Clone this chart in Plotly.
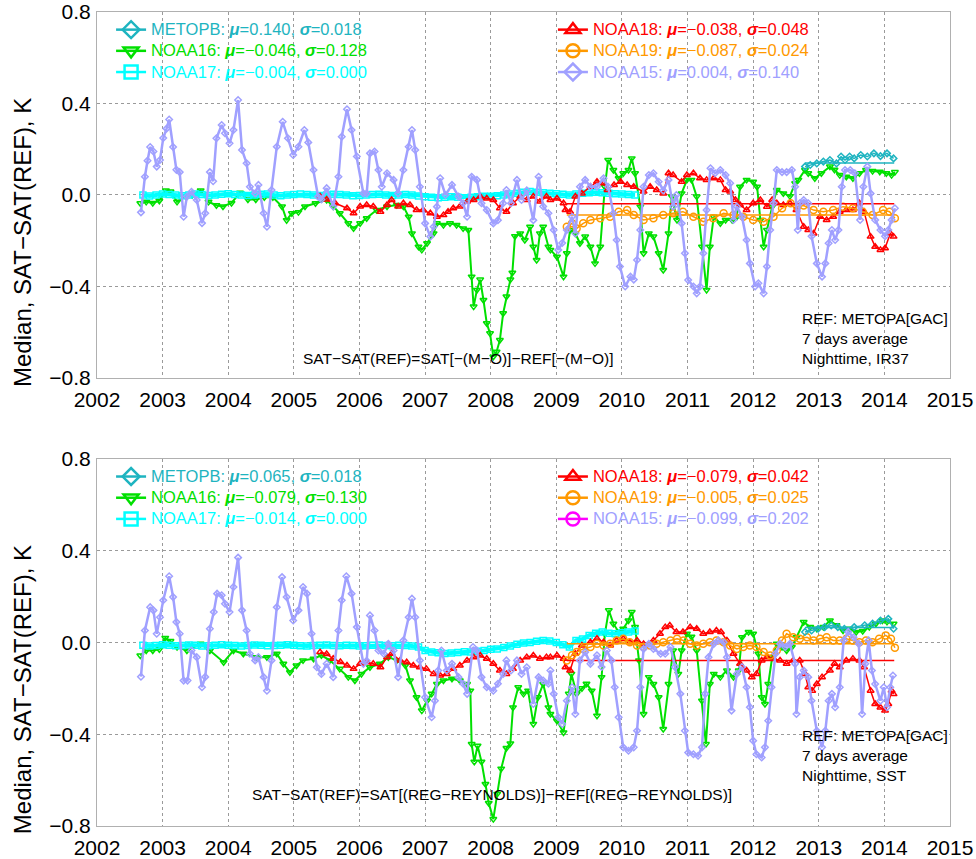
import plotly.graph_objects as go

# decimal year, median difference (K)
# ---------------- top panel: IR37, -(M-O) ----------------
n15_top = [
    (2002.67, -0.076), (2002.73, 0.08), (2002.77, 0.15), (2002.81, 0.21), (2002.86, 0.19),
    (2002.91, 0.124), (2002.96, 0.153), (2003.01, 0.249), (2003.06, 0.29), (2003.10, 0.33),
    (2003.16, 0.21), (2003.21, 0.11), (2003.26, 0.10), (2003.32, -0.095), (2003.37, -0.007),
    (2003.44, 0.014), (2003.52, -0.022), (2003.60, -0.123), (2003.65, -0.08), (2003.72, 0.10),
    (2003.77, 0.06), (2003.82, 0.248), (2003.90, 0.306), (2003.95, 0.27), (2004.02, 0.226),
    (2004.08, 0.284), (2004.15, 0.415), (2004.21, 0.197), (2004.28, 0.139), (2004.33, 0.036),
    (2004.41, 0.007), (2004.46, 0.044), (2004.54, -0.08), (2004.59, -0.139), (2004.66, 0.022),
    (2004.74, 0.211), (2004.83, 0.32), (2004.91, 0.248), (2004.99, 0.175), (2005.07, 0.211),
    (2005.16, 0.284), (2005.22, 0.23), (2005.30, 0.109), (2005.37, -0.007), (2005.42, -0.02),
    (2005.50, 0.03), (2005.60, -0.05), (2005.68, 0.08), (2005.73, 0.255), (2005.81, 0.375),
    (2005.88, 0.284), (2005.96, 0.168), (2006.06, 0.007), (2006.11, 0.007), (2006.16, 0.182),
    (2006.23, 0.19), (2006.29, 0.109), (2006.34, 0.036), (2006.42, 0.095), (2006.52, 0.066),
    (2006.59, 0.007), (2006.67, 0.109), (2006.75, 0.211), (2006.80, 0.284), (2006.85, 0.197),
    (2006.92, 0.036), (2007.00, -0.124), (2007.08, -0.182), (2007.13, -0.139), (2007.18, -0.051),
    (2007.23, 0.073), (2007.31, 0.0), (2007.41, 0.044), (2007.51, -0.007), (2007.58, -0.036),
    (2007.64, -0.095), (2007.71, 0.08), (2007.79, 0.066), (2007.86, -0.036), (2007.94, -0.066),
    (2008.04, -0.124), (2008.11, -0.11), (2008.19, -0.036), (2008.24, 0.022), (2008.31, -0.036),
    (2008.40, 0.066), (2008.47, -0.022), (2008.55, 0.02), (2008.65, -0.11), (2008.73, 0.08),
    (2008.80, -0.05), (2008.88, -0.08), (2008.96, -0.153), (2009.03, -0.24), (2009.09, -0.21),
    (2009.16, -0.153), (2009.24, -0.095), (2009.29, -0.168), (2009.36, 0.036), (2009.44, 0.066),
    (2009.52, 0.036), (2009.62, 0.036), (2009.72, 0.073), (2009.79, 0.036), (2009.87, -0.08),
    (2009.92, -0.197), (2009.97, -0.313), (2010.05, -0.40), (2010.13, -0.357), (2010.18, -0.37),
    (2010.23, -0.284), (2010.28, -0.153), (2010.33, 0.036), (2010.41, 0.087), (2010.48, 0.095),
    (2010.56, 0.058), (2010.63, 0.02), (2010.71, 0.066), (2010.78, -0.051), (2010.83, 0.0),
    (2010.91, -0.124), (2010.96, -0.255), (2011.01, -0.372), (2011.09, -0.40), (2011.14, -0.43),
    (2011.19, -0.40), (2011.24, -0.255), (2011.29, -0.066), (2011.35, 0.117), (2011.42, 0.095),
    (2011.50, 0.109), (2011.58, 0.087), (2011.65, 0.051), (2011.70, -0.109), (2011.75, -0.05),
    (2011.83, -0.095), (2011.90, -0.197), (2011.95, -0.299), (2012.03, -0.40), (2012.08, -0.386),
    (2012.16, -0.43), (2012.21, -0.313), (2012.26, -0.153), (2012.31, -0.036), (2012.36, 0.109),
    (2012.44, 0.10), (2012.51, 0.10), (2012.59, 0.109), (2012.64, 0.036), (2012.68, -0.153),
    (2012.71, -0.036), (2012.77, -0.022), (2012.84, -0.036), (2012.89, -0.18), (2012.97, -0.299),
    (2013.05, -0.357), (2013.10, -0.299), (2013.15, -0.211), (2013.20, -0.153), (2013.25, -0.197),
    (2013.30, -0.153), (2013.35, 0.036), (2013.40, 0.109), (2013.48, 0.109), (2013.55, 0.095),
    (2013.63, -0.109), (2013.68, 0.036), (2013.74, 0.124), (2013.79, 0.007), (2013.86, -0.109),
    (2013.94, -0.153), (2014.01, -0.18), (2014.06, -0.153), (2014.11, -0.109), (2014.16, -0.058),
]
n16_top = [
    (2002.66, -0.036), (2002.75, -0.03), (2002.85, -0.035), (2002.95, -0.025), (2003.05, 0.02),
    (2003.12, 0.015), (2003.22, -0.03), (2003.35, -0.005), (2003.45, 0.0), (2003.58, 0.02),
    (2003.70, -0.03), (2003.82, -0.045), (2003.92, -0.05), (2004.05, -0.035), (2004.18, 0.01),
    (2004.30, -0.02), (2004.42, -0.02), (2004.55, -0.01), (2004.68, -0.01), (2004.82, -0.05),
    (2004.89, -0.11), (2004.97, -0.08), (2005.07, -0.075), (2005.17, -0.05), (2005.33, -0.036),
    (2005.50, -0.022), (2005.60, -0.05), (2005.70, -0.08), (2005.83, -0.124), (2005.91, -0.146),
    (2006.01, -0.124), (2006.11, -0.102), (2006.26, -0.066), (2006.42, -0.05), (2006.57, -0.044),
    (2006.67, -0.05), (2006.75, -0.095), (2006.80, -0.168), (2006.90, -0.226), (2006.95, -0.24),
    (2007.03, -0.211), (2007.13, -0.168), (2007.18, -0.124), (2007.28, -0.131), (2007.38, -0.124),
    (2007.48, -0.131), (2007.58, -0.146), (2007.66, -0.153), (2007.71, -0.357), (2007.74, -0.488),
    (2007.79, -0.415), (2007.84, -0.37), (2007.89, -0.459), (2007.94, -0.561), (2007.99, -0.605),
    (2008.04, -0.707), (2008.09, -0.685), (2008.14, -0.634), (2008.19, -0.517), (2008.24, -0.444),
    (2008.30, -0.37), (2008.33, -0.34), (2008.37, -0.18), (2008.45, -0.168), (2008.52, -0.197),
    (2008.60, -0.139), (2008.65, -0.226), (2008.70, -0.284), (2008.75, -0.168), (2008.80, -0.139),
    (2008.88, -0.226), (2008.91, -0.24), (2009.01, -0.27), (2009.11, -0.357), (2009.16, -0.255),
    (2009.21, -0.153), (2009.29, -0.168), (2009.36, -0.211), (2009.44, -0.182), (2009.52, -0.226),
    (2009.59, -0.299), (2009.67, -0.226), (2009.74, 0.036), (2009.79, 0.153), (2009.87, 0.109),
    (2009.95, 0.073), (2010.02, 0.095), (2010.10, 0.109), (2010.15, 0.16), (2010.20, 0.095),
    (2010.28, -0.051), (2010.33, -0.255), (2010.41, -0.168), (2010.48, -0.182), (2010.56, -0.255),
    (2010.63, -0.328), (2010.71, -0.168), (2010.76, -0.007), (2010.84, -0.109), (2010.91, 0.007),
    (2010.99, 0.066), (2011.06, 0.066), (2011.14, -0.007), (2011.22, -0.226), (2011.29, -0.415),
    (2011.34, -0.226), (2011.40, -0.095), (2011.50, -0.124), (2011.58, -0.109), (2011.68, -0.109),
    (2011.75, -0.095), (2011.80, 0.036), (2011.90, 0.066), (2012.00, 0.058), (2012.06, 0.036),
    (2012.11, -0.109), (2012.16, -0.226), (2012.21, -0.153), (2012.29, -0.051), (2012.36, 0.022),
    (2012.46, 0.007), (2012.56, -0.005), (2012.64, 0.051), (2012.69, 0.066), (2012.79, 0.109),
    (2012.84, 0.095), (2012.94, 0.073), (2013.04, 0.095), (2013.17, 0.124), (2013.24, 0.11),
    (2013.32, 0.087), (2013.42, 0.08), (2013.52, 0.073), (2013.62, 0.095), (2013.72, 0.109),
    (2013.82, 0.105), (2013.93, 0.102), (2014.03, 0.095), (2014.11, 0.087), (2014.16, 0.10),
]
n17_time = [
    2002.7, 2002.8, 2002.9, 2003.0, 2003.1, 2003.2, 2003.3, 2003.4, 2003.5, 2003.6,
    2003.7, 2003.8, 2003.9, 2004.0, 2004.1, 2004.2, 2004.3, 2004.4, 2004.5, 2004.6,
    2004.7, 2004.8, 2004.9, 2005.0, 2005.1, 2005.2, 2005.3, 2005.4, 2005.5, 2005.6,
    2005.7, 2005.8, 2005.9, 2006.0, 2006.1, 2006.2, 2006.3, 2006.4, 2006.5, 2006.6,
    2006.7, 2006.8, 2006.9, 2007.0, 2007.1, 2007.2, 2007.3, 2007.4, 2007.5, 2007.6,
    2007.7, 2007.8, 2007.9, 2008.0, 2008.1, 2008.2, 2008.3, 2008.4, 2008.5, 2008.6,
    2008.7, 2008.8, 2008.9, 2009.0, 2009.1, 2009.2, 2009.3, 2009.4, 2009.5, 2009.6,
    2009.7, 2009.8, 2009.9, 2010.0, 2010.1, 2010.2,
]
n17_top = [
    0.0, -0.004, 0.0, 0.004, 0.002, 0.0, -0.003, 0.0, 0.004, 0.002,
    -0.002, 0.0, 0.003, 0.005, 0.002, 0.0, -0.002, 0.0, 0.003, 0.004,
    0.0, -0.003, 0.0, 0.002, 0.004, 0.002, 0.0, -0.002, 0.0, 0.003,
    0.002, 0.0, -0.003, -0.002, 0.0, 0.002, 0.003, 0.0, -0.002, 0.0,
    0.002, 0.0, -0.004, -0.008, -0.01, -0.012, -0.01, -0.008, -0.01, -0.012,
    -0.01, -0.008, -0.006, -0.005, -0.003, 0.0, 0.004, 0.008, 0.012, 0.015,
    0.012, 0.01, 0.008, 0.005, 0.003, 0.0, 0.004, 0.008, 0.01, 0.012,
    0.01, 0.008, 0.005, 0.004, 0.002, 0.0,
]
n18_top = [
    (2005.40, -0.007), (2005.50, -0.02), (2005.63, -0.036), (2005.81, -0.058), (2005.91, -0.08),
    (2006.01, -0.05), (2006.11, -0.044), (2006.21, -0.05), (2006.32, -0.073), (2006.42, -0.044),
    (2006.49, -0.022), (2006.59, -0.05), (2006.67, -0.036), (2006.77, -0.044), (2006.87, -0.066),
    (2006.97, -0.066), (2007.08, -0.08), (2007.18, -0.095), (2007.28, -0.088), (2007.35, -0.073),
    (2007.43, -0.058), (2007.53, -0.05), (2007.64, -0.029), (2007.74, -0.022), (2007.84, -0.007),
    (2007.94, -0.015), (2008.04, -0.022), (2008.14, -0.058), (2008.24, -0.073), (2008.34, -0.036),
    (2008.45, -0.007), (2008.55, -0.022), (2008.65, -0.007), (2008.75, -0.029), (2008.85, -0.007),
    (2008.91, -0.022), (2009.01, -0.015), (2009.11, -0.036), (2009.14, -0.066), (2009.21, -0.073),
    (2009.29, -0.007), (2009.39, 0.007), (2009.52, 0.036), (2009.62, 0.058), (2009.72, 0.051),
    (2009.78, 0.022), (2009.88, 0.044), (2009.98, 0.058), (2010.08, 0.044), (2010.18, 0.036),
    (2010.33, 0.015), (2010.43, 0.036), (2010.53, 0.022), (2010.63, 0.007), (2010.71, 0.095),
    (2010.78, 0.087), (2010.91, 0.058), (2010.99, 0.087), (2011.09, 0.095), (2011.19, 0.073),
    (2011.29, 0.066), (2011.40, 0.073), (2011.50, 0.066), (2011.58, 0.022), (2011.65, 0.015),
    (2011.73, -0.022), (2011.80, -0.044), (2011.90, -0.066), (2012.00, -0.036), (2012.11, -0.022),
    (2012.21, -0.051), (2012.29, -0.022), (2012.36, -0.036), (2012.46, -0.044), (2012.56, -0.036),
    (2012.66, -0.066), (2012.77, -0.139), (2012.84, -0.153), (2012.92, -0.168), (2013.02, -0.095),
    (2013.12, -0.109), (2013.22, -0.095), (2013.32, -0.073), (2013.42, -0.066), (2013.52, -0.066),
    (2013.62, -0.036), (2013.69, -0.073), (2013.79, -0.182), (2013.86, -0.226), (2013.94, -0.24),
    (2014.01, -0.233), (2014.09, -0.168), (2014.14, -0.182),
]
n19_top = [
    (2009.16, -0.139), (2009.24, -0.124), (2009.31, -0.146), (2009.41, -0.124), (2009.52, -0.109),
    (2009.67, -0.102), (2009.82, -0.095), (2009.95, -0.073), (2010.08, -0.066), (2010.18, -0.087),
    (2010.33, -0.109), (2010.48, -0.102), (2010.63, -0.087), (2010.78, -0.08), (2010.93, -0.073),
    (2011.09, -0.095), (2011.24, -0.117), (2011.39, -0.102), (2011.55, -0.08), (2011.70, -0.087),
    (2011.85, -0.095), (2012.00, -0.109), (2012.16, -0.117), (2012.31, -0.095), (2012.44, -0.058),
    (2012.57, -0.036), (2012.67, -0.051), (2012.77, -0.046), (2012.92, -0.066), (2013.07, -0.073),
    (2013.22, -0.066), (2013.37, -0.051), (2013.52, -0.058), (2013.67, -0.073), (2013.82, -0.087),
    (2013.98, -0.066), (2014.08, -0.073), (2014.16, -0.102),
]
metopb_top = [
    (2012.79, 0.124), (2012.87, 0.131), (2012.97, 0.138), (2013.07, 0.146), (2013.17, 0.153),
    (2013.27, 0.138), (2013.34, 0.168), (2013.40, 0.153), (2013.47, 0.168), (2013.54, 0.160),
    (2013.64, 0.175), (2013.74, 0.168), (2013.84, 0.182), (2013.94, 0.170), (2014.04, 0.182),
    (2014.14, 0.160),
]

# ---------------- bottom panel: SST, REG-REYNOLDS ----------------
n15_bot = [
    (2002.67, -0.149), (2002.73, 0.052), (2002.81, 0.154), (2002.86, 0.14), (2002.91, 0.038),
    (2002.96, 0.11), (2003.01, 0.184), (2003.10, 0.289), (2003.16, 0.198), (2003.21, 0.089),
    (2003.26, 0.038), (2003.32, -0.166), (2003.38, -0.166), (2003.44, -0.035), (2003.52, -0.064),
    (2003.60, -0.195), (2003.65, -0.15), (2003.72, 0.06), (2003.78, 0.133), (2003.83, 0.213),
    (2003.90, 0.206), (2003.95, 0.169), (2004.02, 0.133), (2004.08, 0.242), (2004.15, 0.37),
    (2004.21, 0.14), (2004.28, 0.052), (2004.33, -0.049), (2004.41, -0.078), (2004.46, -0.064),
    (2004.54, -0.151), (2004.59, -0.21), (2004.66, -0.078), (2004.74, 0.154), (2004.82, 0.285),
    (2004.89, 0.198), (2004.99, 0.096), (2005.07, 0.14), (2005.14, 0.242), (2005.20, 0.213),
    (2005.27, 0.038), (2005.35, -0.108), (2005.42, -0.137), (2005.50, -0.093), (2005.60, -0.151),
    (2005.68, 0.052), (2005.73, 0.184), (2005.80, 0.289), (2005.88, 0.213), (2005.96, 0.067),
    (2006.06, -0.093), (2006.11, -0.08), (2006.16, 0.118), (2006.23, 0.052), (2006.29, -0.035),
    (2006.37, -0.049), (2006.44, -0.006), (2006.52, -0.035), (2006.59, -0.151), (2006.67, 0.009),
    (2006.75, 0.11), (2006.80, 0.191), (2006.85, 0.11), (2006.92, -0.078), (2007.00, -0.239),
    (2007.10, -0.326), (2007.15, -0.254), (2007.20, -0.122), (2007.25, -0.035), (2007.33, -0.122),
    (2007.41, -0.093), (2007.51, -0.151), (2007.58, -0.18), (2007.64, -0.224), (2007.73, -0.02),
    (2007.79, -0.035), (2007.86, -0.151), (2007.94, -0.195), (2008.04, -0.21), (2008.11, -0.18),
    (2008.19, -0.137), (2008.24, -0.078), (2008.31, -0.122), (2008.40, -0.078), (2008.47, -0.137),
    (2008.55, -0.108), (2008.65, -0.268), (2008.73, -0.151), (2008.80, -0.166), (2008.88, -0.18),
    (2008.91, -0.122), (2008.96, -0.224), (2009.03, -0.326), (2009.09, -0.355), (2009.16, -0.254),
    (2009.24, -0.195), (2009.29, -0.312), (2009.36, -0.078), (2009.44, -0.042), (2009.52, -0.093),
    (2009.62, -0.056), (2009.69, -0.107), (2009.77, -0.035), (2009.84, -0.078), (2009.89, -0.195),
    (2009.95, -0.326), (2010.02, -0.457), (2010.10, -0.472), (2010.18, -0.457), (2010.23, -0.385),
    (2010.28, -0.195), (2010.33, -0.028), (2010.41, -0.006), (2010.48, -0.028), (2010.59, -0.049),
    (2010.66, -0.049), (2010.74, -0.02), (2010.81, -0.107), (2010.89, -0.224), (2010.96, -0.385),
    (2011.01, -0.48), (2011.09, -0.487), (2011.16, -0.494), (2011.22, -0.457), (2011.27, -0.224),
    (2011.32, -0.064), (2011.40, -0.006), (2011.47, 0.009), (2011.55, 0.001), (2011.60, -0.064),
    (2011.67, -0.297), (2011.75, -0.137), (2011.83, -0.107), (2011.90, -0.195), (2011.95, -0.282),
    (2012.00, -0.428), (2012.05, -0.487), (2012.13, -0.501), (2012.18, -0.457), (2012.23, -0.341),
    (2012.28, -0.195), (2012.34, -0.049), (2012.41, -0.006), (2012.49, -0.02), (2012.56, -0.006),
    (2012.64, -0.093), (2012.66, -0.312), (2012.71, -0.151), (2012.77, -0.122), (2012.84, -0.151),
    (2012.89, -0.254), (2012.97, -0.385), (2013.05, -0.457), (2013.10, -0.385), (2013.15, -0.254),
    (2013.20, -0.224), (2013.25, -0.282), (2013.32, -0.195), (2013.38, 0.009), (2013.45, 0.046),
    (2013.53, 0.023), (2013.61, -0.006), (2013.66, -0.312), (2013.71, -0.093), (2013.76, 0.009),
    (2013.81, -0.122), (2013.86, -0.181), (2013.94, -0.254), (2013.99, -0.195), (2014.04, -0.282),
    (2014.09, -0.195), (2014.13, -0.144),
]
n16_bot = [
    (2002.66, -0.057), (2002.75, -0.035), (2002.85, -0.035), (2002.95, -0.03), (2003.04, 0.02),
    (2003.12, 0.006), (2003.22, -0.02), (2003.37, -0.035), (2003.58, -0.006), (2003.72, -0.035),
    (2003.93, -0.086), (2004.08, -0.035), (2004.23, -0.049), (2004.43, -0.064), (2004.59, -0.064),
    (2004.74, -0.049), (2004.84, -0.093), (2004.94, -0.13), (2005.04, -0.1), (2005.14, -0.078),
    (2005.30, -0.071), (2005.42, -0.056), (2005.55, -0.078), (2005.70, -0.115), (2005.83, -0.151),
    (2005.93, -0.166), (2006.03, -0.137), (2006.16, -0.108), (2006.31, -0.093), (2006.44, -0.064),
    (2006.57, -0.078), (2006.70, -0.1), (2006.77, -0.166), (2006.87, -0.239), (2006.95, -0.297),
    (2007.03, -0.254), (2007.10, -0.224), (2007.18, -0.181), (2007.28, -0.166), (2007.41, -0.158),
    (2007.53, -0.166), (2007.64, -0.181), (2007.69, -0.21), (2007.71, -0.443), (2007.75, -0.52),
    (2007.80, -0.45), (2007.86, -0.52), (2007.92, -0.617), (2007.97, -0.70), (2008.04, -0.77),
    (2008.10, -0.66), (2008.16, -0.55), (2008.24, -0.46), (2008.30, -0.44), (2008.34, -0.283),
    (2008.42, -0.195), (2008.50, -0.224), (2008.57, -0.21), (2008.65, -0.355), (2008.72, -0.239),
    (2008.80, -0.181), (2008.88, -0.283), (2008.91, -0.312), (2009.01, -0.341), (2009.11, -0.392),
    (2009.19, -0.224), (2009.23, -0.137), (2009.31, -0.224), (2009.39, -0.2), (2009.46, -0.18),
    (2009.54, -0.21), (2009.62, -0.319), (2009.69, -0.151), (2009.74, 0.038), (2009.80, 0.14),
    (2009.87, 0.082), (2009.95, 0.046), (2010.02, 0.06), (2010.10, 0.096), (2010.15, 0.133),
    (2010.20, 0.067), (2010.26, -0.078), (2010.33, -0.312), (2010.41, -0.151), (2010.48, -0.181),
    (2010.56, -0.239), (2010.63, -0.377), (2010.71, -0.181), (2010.78, -0.035), (2010.86, -0.137),
    (2010.91, -0.035), (2010.99, 0.038), (2011.06, 0.025), (2011.14, -0.035), (2011.22, -0.254),
    (2011.28, -0.443), (2011.34, -0.181), (2011.40, -0.137), (2011.50, -0.151), (2011.60, -0.122),
    (2011.70, -0.151), (2011.78, -0.122), (2011.83, 0.023), (2011.93, 0.046), (2012.00, 0.038),
    (2012.08, -0.049), (2012.13, -0.239), (2012.18, -0.268), (2012.23, -0.181), (2012.29, -0.064),
    (2012.36, -0.006), (2012.44, -0.02), (2012.51, -0.035), (2012.59, -0.02), (2012.66, 0.023),
    (2012.77, 0.089), (2012.87, 0.067), (2012.97, 0.06), (2013.07, 0.067), (2013.17, 0.096),
    (2013.27, 0.075), (2013.37, 0.052), (2013.47, 0.06), (2013.57, 0.046), (2013.67, 0.05),
    (2013.77, 0.067), (2013.87, 0.082), (2013.97, 0.096), (2014.04, 0.09), (2014.14, 0.082),
]
n17_bot = [
    -0.012, -0.015, -0.013, -0.01, -0.012, -0.014, -0.013, -0.011, -0.012, -0.015,
    -0.014, -0.012, -0.01, -0.012, -0.013, -0.015, -0.013, -0.011, -0.012, -0.014,
    -0.013, -0.012, -0.01, -0.012, -0.014, -0.015, -0.013, -0.012, -0.011, -0.013,
    -0.014, -0.012, -0.013, -0.015, -0.014, -0.012, -0.011, -0.013, -0.014, -0.012,
    -0.013, -0.015, -0.02, -0.035, -0.042, -0.045, -0.048, -0.046, -0.044, -0.04,
    -0.042, -0.038, -0.035, -0.03, -0.028, -0.022, -0.015, -0.008, -0.002, 0.0,
    0.005, 0.009, 0.006, 0.0, -0.01, -0.02, 0.009, 0.015, 0.031, 0.04,
    0.046, 0.04, 0.038, 0.042, 0.046, 0.05,
]
n18_bot = [
    (2005.40, -0.042), (2005.50, -0.05), (2005.60, -0.071), (2005.71, -0.085), (2005.81, -0.1),
    (2005.91, -0.115), (2006.01, -0.093), (2006.11, -0.086), (2006.21, -0.093), (2006.32, -0.108),
    (2006.42, -0.064), (2006.49, -0.049), (2006.62, -0.078), (2006.72, -0.086), (2006.82, -0.1),
    (2006.92, -0.108), (2007.02, -0.115), (2007.13, -0.137), (2007.23, -0.144), (2007.33, -0.137),
    (2007.43, -0.115), (2007.53, -0.1), (2007.64, -0.078), (2007.74, -0.064), (2007.84, -0.057),
    (2007.94, -0.071), (2008.04, -0.093), (2008.14, -0.122), (2008.24, -0.137), (2008.34, -0.115),
    (2008.45, -0.078), (2008.55, -0.064), (2008.65, -0.057), (2008.75, -0.071), (2008.85, -0.064),
    (2008.91, -0.064), (2009.01, -0.057), (2009.11, -0.071), (2009.14, -0.108), (2009.21, -0.122),
    (2009.29, -0.049), (2009.39, -0.013), (2009.52, 0.001), (2009.62, 0.016), (2009.72, 0.001),
    (2009.82, -0.013), (2009.92, 0.009), (2010.02, 0.016), (2010.12, 0.001), (2010.23, 0.009),
    (2010.33, -0.006), (2010.48, 0.009), (2010.58, 0.038), (2010.66, 0.067), (2010.73, 0.074),
    (2010.83, 0.046), (2010.93, 0.046), (2011.04, 0.067), (2011.14, 0.06), (2011.24, 0.038),
    (2011.34, 0.046), (2011.44, 0.052), (2011.51, 0.046), (2011.60, 0.009), (2011.70, -0.049),
    (2011.80, -0.093), (2011.90, -0.122), (2011.98, -0.151), (2012.05, -0.137), (2012.13, -0.078),
    (2012.21, -0.064), (2012.31, -0.071), (2012.41, -0.078), (2012.51, -0.093), (2012.61, -0.078),
    (2012.71, -0.078), (2012.79, -0.137), (2012.84, -0.195), (2012.90, -0.21), (2012.97, -0.181),
    (2013.05, -0.151), (2013.17, -0.122), (2013.24, -0.093), (2013.32, -0.108), (2013.42, -0.078),
    (2013.52, -0.071), (2013.62, -0.078), (2013.69, -0.108), (2013.79, -0.21), (2013.86, -0.268),
    (2013.94, -0.283), (2014.01, -0.297), (2014.06, -0.268), (2014.11, -0.21), (2014.14, -0.225),
]
n19_bot = [
    (2009.16, -0.078), (2009.24, -0.056), (2009.31, -0.042), (2009.41, -0.028), (2009.52, -0.02),
    (2009.62, -0.006), (2009.72, -0.013), (2009.82, -0.006), (2009.92, 0.009), (2010.02, 0.016),
    (2010.12, 0.001), (2010.23, -0.013), (2010.33, -0.02), (2010.43, -0.013), (2010.53, -0.006),
    (2010.63, 0.001), (2010.74, 0.009), (2010.84, 0.016), (2010.94, 0.009), (2011.04, -0.006),
    (2011.14, -0.013), (2011.24, -0.006), (2011.34, 0.001), (2011.44, 0.009), (2011.55, 0.001),
    (2011.65, -0.013), (2011.75, -0.028), (2011.85, -0.02), (2011.95, -0.013), (2012.05, -0.02),
    (2012.16, -0.042), (2012.26, -0.057), (2012.36, -0.035), (2012.44, 0.009), (2012.51, 0.038),
    (2012.61, 0.023), (2012.71, 0.016), (2012.82, 0.023), (2012.92, 0.009), (2013.02, 0.016),
    (2013.12, 0.023), (2013.22, 0.009), (2013.32, 0.009), (2013.42, 0.016), (2013.52, 0.009),
    (2013.62, 0.001), (2013.72, 0.009), (2013.82, 0.001), (2013.92, 0.016), (2014.02, 0.031),
    (2014.10, 0.016), (2014.16, -0.023),
]
metopb_bot = [
    (2012.79, 0.046), (2012.89, 0.052), (2012.99, 0.06), (2013.09, 0.067), (2013.19, 0.074),
    (2013.29, 0.067), (2013.39, 0.06), (2013.54, 0.067), (2013.70, 0.075), (2013.82, 0.082),
    (2013.94, 0.096), (2014.06, 0.103), (2014.14, 0.06),
]

# legend statistics (mu, sigma)
left_sats = ["METOPB", "NOAA16", "NOAA17"]
right_sats = ["NOAA18", "NOAA19", "NOAA15"]
mu_top = {"METOPB": 0.140, "NOAA16": -0.046, "NOAA17": -0.004,
          "NOAA18": -0.038, "NOAA19": -0.087, "NOAA15": 0.004}
sigma_top = {"METOPB": 0.018, "NOAA16": 0.128, "NOAA17": 0.000,
             "NOAA18": 0.048, "NOAA19": 0.024, "NOAA15": 0.140}
mu_bot = {"METOPB": 0.065, "NOAA16": -0.079, "NOAA17": -0.014,
          "NOAA18": -0.079, "NOAA19": -0.005, "NOAA15": -0.099}
sigma_bot = {"METOPB": 0.018, "NOAA16": 0.130, "NOAA17": 0.000,
             "NOAA18": 0.042, "NOAA19": 0.025, "NOAA15": 0.202}
# periods over which the mean lines are drawn
mean_span = {"NOAA18": (2009.16, 2014.15), "NOAA19": (2009.16, 2014.15),
             "METOPB": (2012.79, 2014.15)}
years = list(range(2002, 2016))

COLORS = {"METOPB": "#1EB4C0", "NOAA16": "#00E000", "NOAA17": "#00FFFF",
          "NOAA18": "#FF0000", "NOAA19": "#FF9900", "NOAA15": "#A0A0FF"}
SYMBOLS = {"METOPB": "diamond-open", "NOAA16": "triangle-down-open", "NOAA17": "square-open",
           "NOAA18": "triangle-up-open", "NOAA19": "circle-open", "NOAA15": "diamond-open"}
# marker size, line width in the plot
PLOT_STYLE = {"METOPB": (5, 1.5), "NOAA16": (6, 2), "NOAA17": (6, 4),
              "NOAA18": (6, 1.5), "NOAA19": (7, 1.5), "NOAA15": (5, 2.5)}

FONT = "Liberation Sans"
fig = go.Figure()


def axes_for(row):
    return ("x", "y") if row == 1 else ("x2", "y2")


def add_series(name, t, v, row):
    xa, ya = axes_for(row)
    ms, lw = PLOT_STYLE[name]
    c = COLORS[name]
    fig.add_trace(go.Scatter(
        x=list(t), y=list(v), mode="lines+markers", xaxis=xa, yaxis=ya,
        line=dict(color=c, width=lw),
        marker=dict(symbol=SYMBOLS[name], size=ms, color=c, line=dict(width=1.5, color=c)),
        showlegend=False, hoverinfo="skip"))


def add_mean(name, mu, row):
    xa, ya = axes_for(row)
    t0, t1 = mean_span[name]
    fig.add_trace(go.Scatter(x=[t0, t1], y=[mu, mu], mode="lines", xaxis=xa, yaxis=ya,
                             line=dict(color=COLORS[name], width=1.5),
                             showlegend=False, hoverinfo="skip"))


def fmt(val):
    return f"{val:.3f}".replace("-", "\u2212")


def add_key(name, mu, sig, legend, row, sym_color=None, symbol=None):
    xa, ya = axes_for(row)
    c = COLORS[name]
    sc = sym_color or c
    label = (f"<span style='color:{c};font-size:16.5px'>{name}: <b><i>\u03bc</i></b>={fmt(mu)}, "
             f"<b><i>\u03c3</i></b>={fmt(sig)}</span>")
    fig.add_trace(go.Scatter(
        x=[None], y=[None], mode="lines+markers", xaxis=xa, yaxis=ya, legend=legend,
        line=dict(color=sc, width=2.5),
        marker=dict(symbol=symbol or SYMBOLS[name], size=13, color=sc, line=dict(width=2.5, color=sc)),
        name=label))


for row, data, mus in [
    (1, [("NOAA16", n16_top), ("NOAA18", n18_top), ("NOAA19", n19_top), ("METOPB", metopb_top)], mu_top),
    (2, [("NOAA16", n16_bot), ("NOAA18", n18_bot), ("NOAA19", n19_bot), ("METOPB", metopb_bot)], mu_bot),
]:
    n17_vals = n17_top if row == 1 else n17_bot
    add_series("NOAA16", *zip(*data[0][1]), row)
    add_series("NOAA17", n17_time, n17_vals, row)
    for name, pairs in data[1:]:
        add_series(name, *zip(*pairs), row)
    for name in ["NOAA18", "NOAA19", "METOPB"]:
        add_mean(name, mus[name], row)
    n15 = n15_top if row == 1 else n15_bot
    add_series("NOAA15", *zip(*n15), row)

# legends
for name in left_sats:
    add_key(name, mu_top[name], sigma_top[name], "legend", 1)
for name in right_sats:
    add_key(name, mu_top[name], sigma_top[name], "legend2", 1)
for name in left_sats:
    add_key(name, mu_bot[name], sigma_bot[name], "legend3", 2)
for name in right_sats:
    if name == "NOAA15":
        add_key(name, mu_bot[name], sigma_bot[name], "legend4", 2, sym_color="#FF00FF", symbol="circle-open")
    else:
        add_key(name, mu_bot[name], sigma_bot[name], "legend4", 2)

xax = dict(range=[2002, 2015], tickmode="array", tickvals=years, ticktext=[str(y) for y in years],
           showgrid=True, gridcolor="#9a9a9a", griddash="dot", gridwidth=1,
           showline=True, linecolor="#b0b0b0", linewidth=1, mirror=True, automargin=False,
           ticks="outside", ticklen=3, tickcolor="rgba(0,0,0,0)", zeroline=False,
           tickfont=dict(family=FONT, size=21, color="black"))
yax = dict(range=[-0.8, 0.8], tickmode="array", tickvals=[-0.8, -0.4, 0.0, 0.4, 0.8],
           ticktext=["\u22120.8", "\u22120.4", "0.0", "0.4", "0.8"],
           showgrid=True, gridcolor="#9a9a9a", griddash="dot", gridwidth=1,
           showline=True, linecolor="#b0b0b0", linewidth=1, mirror=True, automargin=False,
           ticks="outside", ticklen=1, tickcolor="rgba(0,0,0,0)", zeroline=False,
           tickfont=dict(family=FONT, size=21, color="black"))

# small base font keeps the rows 21 px apart; the label spans carry the real size
leg = dict(xanchor="left", yanchor="top", bgcolor="rgba(0,0,0,0)", borderwidth=0,
           font=dict(family=FONT, size=14), tracegroupgap=0, itemwidth=30)

y_title = "Median, SAT\u2212SAT(REF), K"
txt_font = dict(family=FONT, size=15.5, color="black")

fig.update_layout(
    width=976, height=859,
    margin=dict(l=97, r=26, t=12, b=33, autoexpand=False),
    plot_bgcolor="white", paper_bgcolor="white",
    font=dict(family=FONT, size=16, color="black"),
    xaxis=dict(domain=[0, 1], anchor="y", **xax),
    yaxis=dict(domain=[0.5504, 1], anchor="x", **yax),
    xaxis2=dict(domain=[0, 1], anchor="y2", **xax),
    yaxis2=dict(domain=[0, 0.4509], anchor="x2", **yax),
    legend=dict(x=0.0165, y=0.9975, **leg),
    legend2=dict(x=0.5345, y=0.9975, **leg),
    legend3=dict(x=0.0165, y=0.4485, **leg),
    legend4=dict(x=0.5345, y=0.4485, **leg),
    annotations=[
        dict(text=y_title, textangle=-90, xref="paper", yref="paper", x=-0.088, y=0.7174,
             xanchor="center", yanchor="middle",
             showarrow=False, font=dict(family=FONT, size=24, color="black")),
        dict(text=y_title, textangle=-90, xref="paper", yref="paper", x=-0.088, y=0.168,
             xanchor="center", yanchor="middle",
             showarrow=False, font=dict(family=FONT, size=24, color="black")),
        dict(text="SAT\u2212SAT(REF)=SAT[\u2212(M\u2212O)]\u2212REF[\u2212(M\u2212O)]",
             xref="paper", yref="paper", x=0.4232, y=0.5749, showarrow=False, font=txt_font),
        dict(text="REF: METOPA[GAC]<br>7 days average<br>Nighttime, IR37",
             xref="paper", yref="paper", x=0.8242, y=0.5983, xanchor="left", align="left",
             showarrow=False, font=txt_font),
        dict(text="SAT\u2212SAT(REF)=SAT[(REG\u2212REYNOLDS)]\u2212REF[(REG\u2212REYNOLDS)]",
             xref="paper", yref="paper", x=0.4631, y=0.0258, showarrow=False, font=txt_font),
        dict(text="REF: METOPA[GAC]<br>7 days average<br>Nighttime, SST",
             xref="paper", yref="paper", x=0.8242, y=0.0491, xanchor="left", align="left",
             showarrow=False, font=txt_font),
    ],
)

# the page's default body margin would push the figure out of the window
fig.write_html("out.html", config={"displayModeBar": False},
               post_script="document.body.style.margin='0';")
